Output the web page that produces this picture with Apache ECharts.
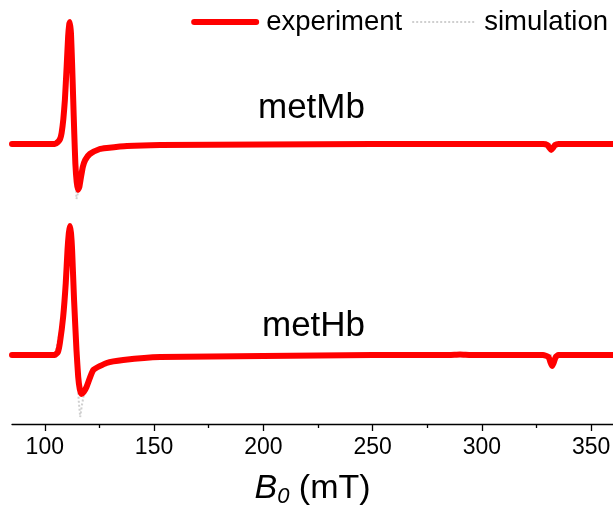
<!DOCTYPE html>
<html>
<head>
<meta charset="utf-8">
<script src="https://cdn.jsdelivr.net/npm/echarts@6.0.0/dist/echarts.min.js"></script>
<style>
  html, body { margin: 0; padding: 0; background: #fff; }
  #chart { width: 613px; height: 511px; }
</style>
</head>
<body>
<div id="chart"></div>
<script>
// magnetic field (mT) and signal (arb. units)
const fieldMb = [85, 100, 104.6, 106.0, 107.0, 107.7, 108.5, 109.2, 110.0, 110.7, 111.2, 111.5, 112.0, 112.5, 113.0, 113.5, 114.0, 114.6, 115.2, 115.8, 116.5, 117.4, 118.5, 120.6, 125.2, 128.4, 137.6, 152.8, 200, 250, 300, 328, 330, 331, 331.7, 332.5, 333.5, 335, 360]
const metMb = [0, 0, 0, 2, 5, 11, 25, 44, 77, 108, 120, 122, 110, 80, 45, 10, -20, -38, -46, -43, -34, -23, -16, -10, -5, -4, -2, -1, -0.5, 0, 0, 0, -1, -4, -6, -4, -1, 0, 0]

const fieldHb = [85, 100, 104.6, 106.0, 106.9, 108.4, 109.6, 110.4, 111.0, 111.5, 112.0, 112.5, 113.4, 114.5, 115.3, 116.0, 116.8, 117.8, 119.1, 122.2, 128.3, 135.9, 152.8, 200, 250, 285, 290, 295, 328, 330.5, 331.5, 332.1, 332.8, 333.8, 335, 360]
const metHb = [0, 0, 0, 3, 12, 38, 72, 105, 122, 129, 122, 105, 55, 5, -22, -34, -39, -37, -32, -15, -8, -5, -2, -1, 0, 0, 0.5, 0, 0, -2, -8, -11, -8, -2, 0, 0]

// simulation (only visible where it runs below the experiment)
const simFieldMb = [85, 104.6, 107.7, 109.2, 110.7, 111.5, 112.5, 113.5, 114.5, 115.3, 116.1, 117.4, 120.6, 128.4, 152.8, 360]
const simMb = [0, 0, 11, 44, 108, 122, 80, 10, -55, -48, -38, -22, -10, -4, -1, 0]
const simFieldHb = [85, 104.6, 108.4, 110.4, 111.5, 112.5, 113.4, 114.5, 115.5, 116.2, 117.0, 118.0, 119.1, 122.2, 128.3, 152.8, 360]
const simHb = [0, 0, 38, 105, 129, 105, 55, 5, -45, -62, -50, -38, -30, -15, -8, -2, 0]

const majorTicks = [100, 150, 200, 250, 300, 350]
const minorTicks = [125, 175, 225, 275, 325]

const offsetMb = 280
const offsetHb = 69

const font = 'Arial, "Liberation Sans", sans-serif'
const toPairs = (xs, ys, off) => xs.map((x, i) => [x, ys[i] + off])

const chart = echarts.init(document.getElementById('chart'))

const expStyle = { color: '#ff0000', width: 6, cap: 'round', join: 'round' }
const simStyle = { color: '#cfcfcf', width: 2, type: 'dotted' }

const option = {
  animation: false,
  grid: { left: 12, right: 0, top: 0, bottom: 87, containLabel: false, outerBoundsMode: 'none' },
  legend: {
    right: 0,
    top: 3,
    itemWidth: 62,
    itemHeight: 24,
    itemGap: 9,
    data: ['experiment', 'simulation'],
    itemStyle: { opacity: 0 },
    lineStyle: { width: 'inherit' },
    textStyle: { fontFamily: font, fontSize: 27.5, color: '#000', padding: [0, 0, 0, 5] }
  },
  xAxis: [
    {
      type: 'value',
      min: 85,
      max: 360,
      position: 'bottom',
      splitLine: { show: false },
      axisLine: { lineStyle: { color: '#000', width: 1.3 } },
      axisTick: { length: 7, customValues: majorTicks, lineStyle: { color: '#000', width: 1.3 } },
      axisLabel: { customValues: majorTicks, margin: 12, fontFamily: font, fontSize: 23, color: '#000' },
      name: '{i|B}{s|0} (mT)',
      nameLocation: 'middle',
      nameGap: 46,
      nameTextStyle: {
        fontFamily: font, fontSize: 34, color: '#000',
        rich: {
          i: { fontFamily: font, fontSize: 34, fontStyle: 'italic', color: '#000' },
          s: { fontFamily: font, fontSize: 22, fontStyle: 'italic', color: '#000', verticalAlign: 'bottom', padding: [16, 0, 0, 0] }
        }
      }
    },
    {
      type: 'value',
      min: 85,
      max: 360,
      position: 'bottom',
      offset: 0,
      splitLine: { show: false },
      axisLine: { show: false },
      axisTick: { length: 4, customValues: minorTicks, lineStyle: { color: '#000', width: 1.3 } },
      axisLabel: { show: false }
    }
  ],
  yAxis: { type: 'value', min: 0, max: 424, show: false },
  series: [
    { name: 'simulation', type: 'line', data: toPairs(simFieldMb, simMb, offsetMb), showSymbol: false, symbol: 'none', lineStyle: simStyle, itemStyle: { color: '#cfcfcf' }, z: 1 },
    { name: 'simulation', type: 'line', data: toPairs(simFieldHb, simHb, offsetHb), showSymbol: false, symbol: 'none', lineStyle: simStyle, itemStyle: { color: '#cfcfcf' }, z: 1 },
    { name: 'experiment', type: 'line', data: toPairs(fieldMb, metMb, offsetMb), showSymbol: false, symbol: 'none', smooth: 0.15, lineStyle: expStyle, itemStyle: { color: '#ff0000' }, z: 3 },
    { name: 'experiment', type: 'line', data: toPairs(fieldHb, metHb, offsetHb), showSymbol: false, symbol: 'none', smooth: 0.15, lineStyle: expStyle, itemStyle: { color: '#ff0000' }, z: 3 }
  ],
  graphic: [
    { type: 'text', left: 258, top: 91, style: { text: 'metMb', fontFamily: font, fontSize: 35, fill: '#000' } },
    { type: 'text', left: 262, top: 309, style: { text: 'metHb', fontFamily: font, fontSize: 35, fill: '#000' } }
  ]
}

chart.setOption(option)
</script>
</body>
</html>
